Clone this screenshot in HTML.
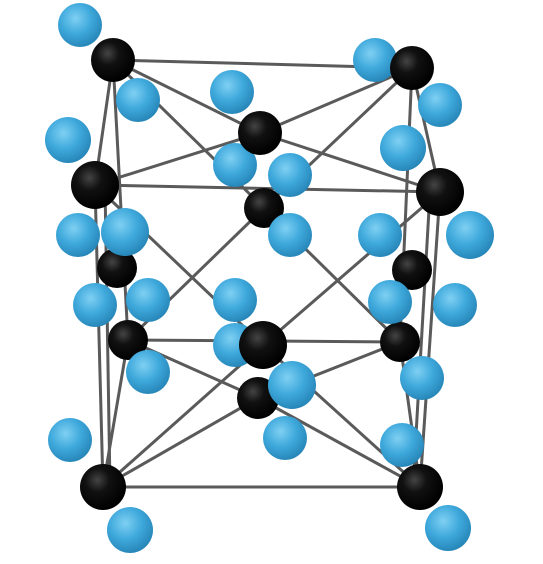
<!DOCTYPE html>
<html><head><meta charset="utf-8"><style>
html,body{margin:0;padding:0;background:#fff;}
svg{display:block;}
</style></head>
<body>
<svg width="543" height="564" viewBox="0 0 543 564" xmlns="http://www.w3.org/2000/svg">
<defs>
<radialGradient id="gb" cx="0.4" cy="0.35" r="0.7">
<stop offset="0" stop-color="#7fd0f2"/><stop offset="0.5" stop-color="#3fa9dc"/><stop offset="1" stop-color="#2482b4"/>
</radialGradient>
<radialGradient id="gk" cx="0.38" cy="0.35" r="0.65">
<stop offset="0" stop-color="#444"/><stop offset="0.4" stop-color="#111"/><stop offset="1" stop-color="#000"/>
</radialGradient>
</defs>
<rect width="543" height="564" fill="#fff"/>
<g stroke="#5a5a5a" stroke-width="3" fill="none">
<line x1="113" y1="60" x2="412" y2="68"/>
<line x1="95" y1="185" x2="440" y2="192"/>
<line x1="128" y1="340" x2="400" y2="342"/>
<line x1="103" y1="487" x2="420" y2="487"/>
<line x1="113" y1="60" x2="95" y2="185"/>
<line x1="412" y1="68" x2="440" y2="192"/>
<line x1="113" y1="60" x2="128" y2="340"/>
<line x1="412" y1="68" x2="400" y2="342"/>
<line x1="95" y1="185" x2="103" y2="487"/>
<line x1="105" y1="185" x2="110" y2="487"/>
<line x1="440" y1="192" x2="420" y2="487"/>
<line x1="430" y1="192" x2="413" y2="487"/>
<line x1="128" y1="340" x2="103" y2="487"/>
<line x1="400" y1="342" x2="420" y2="487"/>
<line x1="113" y1="60" x2="260" y2="133"/>
<line x1="412" y1="68" x2="260" y2="133"/>
<line x1="95" y1="185" x2="260" y2="133"/>
<line x1="440" y1="192" x2="260" y2="133"/>
<line x1="95" y1="185" x2="263" y2="345"/>
<line x1="440" y1="192" x2="263" y2="345"/>
<line x1="103" y1="487" x2="263" y2="345"/>
<line x1="420" y1="487" x2="263" y2="345"/>
<line x1="113" y1="60" x2="264" y2="208"/>
<line x1="412" y1="68" x2="264" y2="208"/>
<line x1="128" y1="340" x2="258" y2="398"/>
<line x1="400" y1="342" x2="258" y2="398"/>
<line x1="103" y1="487" x2="258" y2="398"/>
<line x1="420" y1="487" x2="258" y2="398"/>
<line x1="128" y1="340" x2="264" y2="208"/>
<line x1="400" y1="342" x2="264" y2="208"/>
</g>
<g stroke="none">
<circle cx="264" cy="208" r="20" fill="url(#gk)"/>
<circle cx="258" cy="398" r="21" fill="url(#gk)"/>
<circle cx="232" cy="92" r="22" fill="url(#gb)"/>
<circle cx="235" cy="165" r="22" fill="url(#gb)"/>
<circle cx="290" cy="175" r="22" fill="url(#gb)"/>
<circle cx="290" cy="235" r="22" fill="url(#gb)"/>
<circle cx="380" cy="235" r="22" fill="url(#gb)"/>
<circle cx="117" cy="268" r="20" fill="url(#gk)"/>
<circle cx="412" cy="270" r="20" fill="url(#gk)"/>
<circle cx="128" cy="340" r="20" fill="url(#gk)"/>
<circle cx="400" cy="342" r="20" fill="url(#gk)"/>
<circle cx="80" cy="25" r="22" fill="url(#gb)"/>
<circle cx="375" cy="60" r="22" fill="url(#gb)"/>
<circle cx="113" cy="60" r="22" fill="url(#gk)"/>
<circle cx="412" cy="68" r="22" fill="url(#gk)"/>
<circle cx="138" cy="100" r="22" fill="url(#gb)"/>
<circle cx="440" cy="105" r="22" fill="url(#gb)"/>
<circle cx="260" cy="133" r="22" fill="url(#gk)"/>
<circle cx="68" cy="140" r="23" fill="url(#gb)"/>
<circle cx="403" cy="148" r="23" fill="url(#gb)"/>
<circle cx="95" cy="185" r="24" fill="url(#gk)"/>
<circle cx="440" cy="192" r="24" fill="url(#gk)"/>
<circle cx="78" cy="235" r="22" fill="url(#gb)"/>
<circle cx="125" cy="232" r="24" fill="url(#gb)"/>
<circle cx="470" cy="235" r="24" fill="url(#gb)"/>
<circle cx="95" cy="305" r="22" fill="url(#gb)"/>
<circle cx="148" cy="300" r="22" fill="url(#gb)"/>
<circle cx="235" cy="300" r="22" fill="url(#gb)"/>
<circle cx="390" cy="302" r="22" fill="url(#gb)"/>
<circle cx="455" cy="305" r="22" fill="url(#gb)"/>
<circle cx="235" cy="345" r="22" fill="url(#gb)"/>
<circle cx="263" cy="345" r="24" fill="url(#gk)"/>
<circle cx="148" cy="372" r="22" fill="url(#gb)"/>
<circle cx="422" cy="378" r="22" fill="url(#gb)"/>
<circle cx="292" cy="385" r="24" fill="url(#gb)"/>
<circle cx="285" cy="438" r="22" fill="url(#gb)"/>
<circle cx="70" cy="440" r="22" fill="url(#gb)"/>
<circle cx="402" cy="445" r="22" fill="url(#gb)"/>
<circle cx="103" cy="487" r="23" fill="url(#gk)"/>
<circle cx="420" cy="487" r="23" fill="url(#gk)"/>
<circle cx="130" cy="530" r="23" fill="url(#gb)"/>
<circle cx="448" cy="528" r="23" fill="url(#gb)"/>
</g>
</svg>
</body></html>
